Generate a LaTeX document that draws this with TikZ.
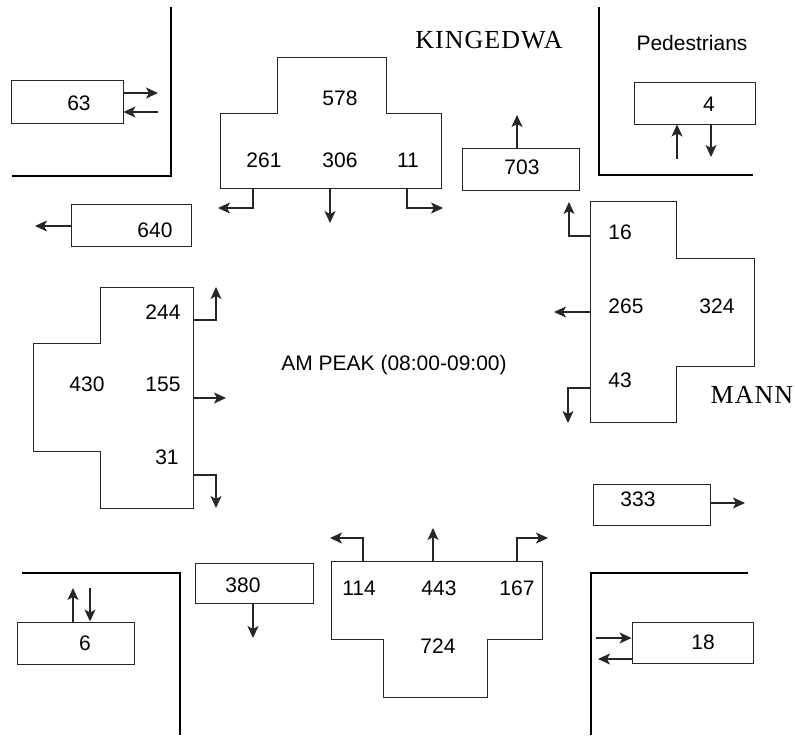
\documentclass[tikz,border=0pt]{standalone}
\usepackage{fontspec}
\setmainfont{Liberation Sans}
\newfontfamily\serifKE[LetterSpace=4]{Liberation Serif}
\usetikzlibrary{arrows.meta}
\begin{document}
\begin{tikzpicture}[x=1pt,y=-1pt,
  box/.style={draw=black!85, line width=1pt, rectangle, inner sep=0pt},
  num/.style={font=\fontsize{21}{24}\selectfont, inner sep=0pt, text depth=0pt},
  road/.style={font=\serifKE\fontsize{26}{30}\selectfont, inner sep=0pt},
  wall/.style={line width=2.8pt, black},
  flow/.style={draw=black!85, line width=1.1pt, -{Stealth[length=12pt,width=11pt,inset=3pt]}},
  outline/.style={draw=black!85, line width=1pt}]
\useasboundingbox (0,0) rectangle (795,736);

% corner kerbs
\draw[wall] (171,7) -- (171,176) -- (12,176);
\draw[wall] (599,7) -- (599,175) -- (753,175);
\draw[wall] (22,573) -- (180,573) -- (180,735);
\draw[wall] (591,735) -- (591,573) -- (748,573);

% simple boxes
\node[box, minimum width=112pt, minimum height=43pt] (b63) at (67,101.5) {};
\node[box, minimum width=120pt, minimum height=42pt] (b640) at (131,225) {};
\node[box, minimum width=117pt, minimum height=42pt] (b703) at (520.5,169) {};
\node[box, minimum width=121pt, minimum height=42pt] (b4) at (694.5,103) {};
\node[box, minimum width=117pt, minimum height=41pt] (b333) at (651.5,504.5) {};
\node[box, minimum width=121pt, minimum height=41pt] (b18) at (692.5,642.5) {};
\node[box, minimum width=117pt, minimum height=42pt] (b6) at (75.5,643) {};
\node[box, minimum width=118pt, minimum height=40pt] (b380) at (254,583) {};

% T-shaped approach boxes
\draw[outline] (277,57) -- (386,57) -- (386,113) -- (441,113) -- (441,188) -- (220,188) -- (220,113) -- (277,113) -- cycle;
\draw[outline] (590,201) -- (676,201) -- (676,258) -- (754,258) -- (754,366) -- (676,366) -- (676,422) -- (590,422) -- cycle;
\draw[outline] (100,287) -- (193,287) -- (193,508) -- (100,508) -- (100,451) -- (33,451) -- (33,343) -- (100,343) -- cycle;
\draw[outline] (331,561) -- (542,561) -- (542,639) -- (487,639) -- (487,697) -- (383,697) -- (383,639) -- (331,639) -- cycle;

% labels
\node[num] (t63) at (79,103) {63};
\node[num] (t640) at (155,230) {640};
\node[num] (t703) at (522,167) {703};
\node[num] (t4) at (709,104) {4};
\node[num] (t333) at (638,499) {333};
\node[num] (t18) at (703,642) {18};
\node[num] (t6) at (85,643) {6};
\node[num] (t380) at (243,585) {380};
\node[num] (t578) at (340,98) {578};
\node[num] (t261) at (264,160) {261};
\node[num] (t306) at (340,160) {306};
\node[num] (t11) at (408,160) {11};
\node[num] (t16) at (620,232) {16};
\node[num] (t265) at (626,306) {265};
\node[num] (t324) at (717,306) {324};
\node[num] (t43) at (620,380) {43};
\node[num] (t244) at (163,312) {244};
\node[num] (t430) at (87,384) {430};
\node[num] (t155) at (163,384) {155};
\node[num] (t31) at (167,457) {31};
\node[num] (t114) at (359,588) {114};
\node[num] (t443) at (439,588) {443};
\node[num] (t167) at (517,588) {167};
\node[num] (t724) at (438,646) {724};
\node[num] (tped) at (692,43) {Pedestrians};
\node[num] (tpeak) at (394,363) {AM PEAK (08:00-09:00)};
\node[road] (tking) at (489,40) {KINGEDWA};
\node[road] (tmann) at (752,395) {MANN};

% arrows of the small boxes
\draw[flow] (b63.east |- 0,93) -- (158,93);
\draw[flow] (158,112) -- (b63.east |- 0,112);
\draw[flow] (b640.west |- 0,226) -- (35,226);
\draw[flow] (b703.north -| 517,0) -- (517,115);
\draw[flow] (677,159) -- (b4.south -| 677,0);
\draw[flow] (b4.south -| 711,0) -- (711,157);
\draw[flow] (b333.east |- 0,503) -- (745,503);
\draw[flow] (596,638) -- (b18.west |- 0,638);
\draw[flow] (b18.west |- 0,659) -- (598,659);
\draw[flow] (b6.north -| 73,0) -- (73,588);
\draw[flow] (90,588) -- (b6.north -| 90,0);
\draw[flow] (b380.south -| 253,0) -- (253,638);

% turning arrows: top
\draw[flow] (253,188) -- (253,208) -- (218,208);
\draw[flow] (330,188) -- (330,223);
\draw[flow] (407,188) -- (407,208) -- (443,208);
% right
\draw[flow] (590,236) -- (569,236) -- (569,202);
\draw[flow] (590,312) -- (554,312);
\draw[flow] (590,388) -- (568,388) -- (568,423);
% left
\draw[flow] (193,320) -- (216,320) -- (216,287);
\draw[flow] (193,398) -- (226,398);
\draw[flow] (193,475) -- (216,475) -- (216,508);
% bottom
\draw[flow] (363,561) -- (363,538) -- (330,538);
\draw[flow] (433,561) -- (433,528);
\draw[flow] (517,561) -- (517,538) -- (548,538);
\end{tikzpicture}
\end{document}
